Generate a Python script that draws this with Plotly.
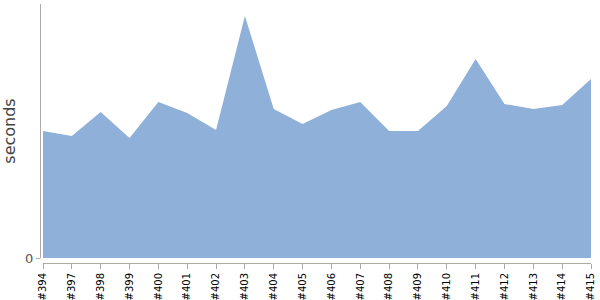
import plotly.graph_objects as go

builds = ["#394", "#397", "#398", "#399", "#400", "#401", "#402", "#403", "#404", "#405",
          "#406", "#407", "#408", "#409", "#410", "#411", "#412", "#413", "#414", "#415"]
seconds = [127, 122, 146, 120, 156, 145, 128, 242, 149, 134,
           148, 156, 127, 127, 152, 199, 154, 149, 153, 179]

W, H = 600, 300
L, R, T, B = 40, 9, 4, 37
pw, ph = W - L - R, H - T - B

fig = go.Figure()
fig.add_trace(go.Scatter(
    x=list(range(len(builds))), y=seconds, mode="lines",
    fill="tozeroy", fillcolor="#8EB0D9",
    line=dict(width=0, color="#8EB0D9"), hoverinfo="skip", showlegend=False,
))

axis_col = "#AAAAAA"
fig.update_layout(
    width=W, height=H,
    margin=dict(l=L, r=R, t=T, b=B, pad=0, autoexpand=False),
    plot_bgcolor="white", paper_bgcolor="white",
    xaxis=dict(
        domain=[3 / pw, 1], anchor="free", position=0, automargin=False,
        range=[0, len(builds) - 1],
        tickmode="array", tickvals=list(range(len(builds))), ticktext=builds,
        tickangle=-90, ticks="outside", ticklen=5, tickcolor=axis_col,
        showline=True, linecolor=axis_col, linewidth=1,
        showgrid=False, zeroline=False,
        tickfont=dict(family="DejaVu Sans", size=10, color="#000"),
    ),
    yaxis=dict(
        domain=[5 / ph, 1], anchor="free", position=0, automargin=False,
        range=[0, 254],
        tickmode="array", tickvals=[0], ticktext=["0"],
        ticks="outside", ticklen=4, tickcolor=axis_col,
        showline=True, linecolor=axis_col, linewidth=1,
        showgrid=False, zeroline=False,
        tickfont=dict(family="DejaVu Sans", size=13, color="#555"),
        title=dict(text="seconds", standoff=9,
                   font=dict(family="DejaVu Sans", size=16, color="#444")),
    ),
)

fig.write_html("out.html")
